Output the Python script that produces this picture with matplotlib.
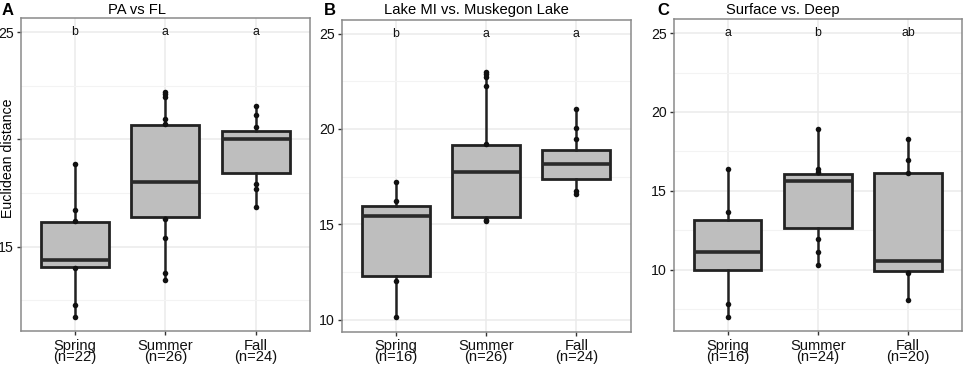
import matplotlib
matplotlib.use("Agg")
import matplotlib.pyplot as plt
from matplotlib.ticker import FixedLocator

plt.rcParams['font.family'] = ['Liberation Sans', 'DejaVu Sans']

seasons = ["Spring", "Summer", "Fall"]

# Panel A: PA vs FL
a_n = [22, 26, 24]
a_q1 = [14.07, 16.37, 18.46]
a_med = [14.39, 18.04, 20.02]
a_q3 = [16.16, 20.68, 20.39]
a_lo = [11.75, 13.43, 16.86]
a_hi = [18.85, 22.23, 21.57]
a_pts = [[18.85, 16.71, 16.22, 14.0, 12.3, 11.75],
         [22.23, 22.1, 22.0, 20.96, 20.7, 16.3, 15.43, 13.78, 13.43],
         [21.57, 21.15, 20.59, 17.93, 17.69, 16.86]]
a_letters = ["b", "a", "a"]

# Panel B: Lake MI vs. Muskegon Lake
b_n = [16, 26, 24]
b_q1 = [12.3, 15.37, 17.39]
b_med = [15.46, 17.74, 18.16]
b_q3 = [15.98, 19.16, 18.89]
b_lo = [10.12, 15.15, 16.6]
b_hi = [17.2, 22.99, 21.05]
b_pts = [[17.2, 16.22, 12.04, 10.12],
         [22.99, 22.87, 22.75, 22.24, 19.2, 15.25, 15.15],
         [21.05, 20.03, 19.45, 16.75, 16.6]]
b_letters = ["b", "a", "a"]

# Panel C: Surface vs. Deep
c_n = [16, 24, 20]
c_q1 = [9.96, 12.65, 9.92]
c_med = [11.13, 15.63, 10.53]
c_q3 = [13.16, 16.05, 16.1]
c_lo = [7.0, 10.3, 8.04]
c_hi = [16.35, 18.89, 18.26]
c_pts = [[16.35, 13.67, 7.79, 7.0],
         [18.89, 16.35, 16.2, 11.95, 11.1, 10.3],
         [18.26, 16.97, 16.15, 9.8, 8.04]]
c_letters = ["a", "b", "ab"]

W, H = 964, 367
fig = plt.figure(figsize=(W / 100, H / 100), dpi=100)


def px_axes(l, r, t, b):
    return fig.add_axes([l / W, 1 - b / H, (r - l) / W, (b - t) / H])


def panel(ax, n, q1, med, q3, lo, hi, pts, letters, ylim, yticks, ylabels, minor):
    ax.set_facecolor("white")
    stats = []
    for i in range(3):
        stats.append(dict(med=med[i], q1=q1[i], q3=q3[i], whislo=lo[i], whishi=hi[i], fliers=[]))
    ax.set_ylim(*ylim)
    ax.set_xlim(0.4, 3.6)
    ax.yaxis.set_major_locator(FixedLocator(yticks))
    ax.set_yticklabels(ylabels)
    ax.yaxis.set_minor_locator(FixedLocator(minor))
    ax.set_xticks([1, 2, 3])
    ax.set_xticklabels([f"{s}\n(n={k})" for s, k in zip(seasons, n)],
                       linespacing=0.72)
    ax.grid(True, which="major", color="#EBEBEB", linewidth=1.1, zorder=0)
    ax.grid(True, which="minor", axis="y", color="#F3F3F3", linewidth=0.8, zorder=0)
    ax.set_axisbelow(True)
    ax.bxp(stats, positions=[1, 2, 3], widths=0.75, patch_artist=True, showcaps=False,
           boxprops=dict(facecolor="#BEBEBE", edgecolor="#222222", linewidth=2.0),
           whiskerprops=dict(color="#222222", linewidth=1.8),
           medianprops=dict(color="#2A2A2A", linewidth=2.6),
           manage_ticks=False, zorder=2)
    for i, p in enumerate(pts):
        ax.scatter([i + 1] * len(p), p, s=16, color="#111111", zorder=3, linewidths=0)
    for i, L in enumerate(letters):
        ax.text(i + 1, 25, L, ha="center", va="center", fontsize=8.8, color="#111111", zorder=4)
    for sp in ax.spines.values():
        sp.set_color("#8A8A8A")
        sp.set_linewidth(1.1)
    ax.tick_params(axis="both", which="major", length=3.2, width=1.0, color="#333333",
                   labelcolor="#111111", labelsize=10.2, pad=1.5)
    ax.tick_params(axis="y", which="minor", length=0)
    ax.tick_params(axis="x", labelsize=10.6, pad=2.5)


axA = px_axes(20.7, 310, 18, 330.7)
panel(axA, a_n, a_q1, a_med, a_q3, a_lo, a_hi, a_pts, a_letters,
      (11.09, 25.66), [15, 20, 25], ["15", "", "25"], [12.5, 17.5, 22.5])
axB = px_axes(341.5, 630.5, 19.5, 331.5)
panel(axB, b_n, b_q1, b_med, b_q3, b_lo, b_hi, b_pts, b_letters,
      (9.38, 25.74), [10, 15, 20, 25], ["10", "15", "20", "25"], [12.5, 17.5, 22.5])
axC = px_axes(673.5, 962, 19, 331)
panel(axC, c_n, c_q1, c_med, c_q3, c_lo, c_hi, c_pts, c_letters,
      (6.1, 25.9), [10, 15, 20, 25], ["10", "15", "20", "25"], [7.5, 12.5, 17.5, 22.5])

# panel letters and titles
for x, L in [(2, "A"), (324, "B"), (657, "C")]:
    fig.text(x / W, 1 - 3 / H, L, fontsize=12, fontweight="bold", va="top", ha="left")
for x, T in [(107.7, "PA vs FL"), (384, "Lake MI vs. Muskegon Lake"), (726, "Surface vs. Deep")]:
    fig.text(x / W, 1 - 14 / H, T, fontsize=10.6, va="baseline", ha="left")

fig.text(8 / W, 1 - 158 / H, "Euclidean distance", rotation=90, fontsize=10.2,
         va="center", ha="center")

fig.savefig("out.png", dpi=100)
